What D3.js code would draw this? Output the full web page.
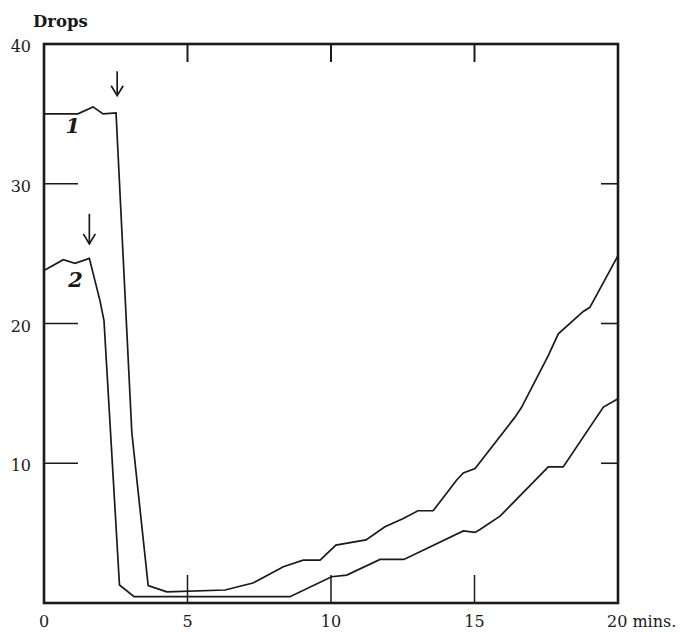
<!DOCTYPE html>
<html>
<head>
<meta charset="utf-8">
<script src="https://cdn.jsdelivr.net/npm/d3@7"></script>
<style>
  body { margin: 0; background: #fff; }
  text { font-family: "DejaVu Serif", "Liberation Serif", serif; fill: #1a1a1a; }
</style>
</head>
<body>
<div id="chart"></div>
<script>
// values: minutes, drops
var mins1  = [0, 1.18, 1.71, 2.06, 2.51, 3.06, 3.63, 4.28, 6.31, 7.28, 8.34, 9.03, 9.62, 10.17, 11.22, 11.88, 12.52, 13.03, 13.56, 14.38, 14.61, 15.02, 16.41, 16.64, 17.57, 17.92, 18.79, 19.02, 20];
var drops1 = [35.0, 35.0, 35.5, 35.0, 35.07, 12.2, 1.25, 0.8, 0.93, 1.43, 2.6, 3.07, 3.07, 4.14, 4.52, 5.45, 6.05, 6.6, 6.6, 8.8, 9.3, 9.62, 13.3, 14.0, 17.7, 19.26, 20.86, 21.16, 24.86];

var mins2  = [0, 0.67, 1.08, 1.58, 1.95, 2.09, 2.63, 3.14, 8.57, 10.02, 10.55, 11.71, 12.54, 14.61, 15.02, 15.19, 15.89, 17.17, 17.57, 18.09, 19.49, 20];
var drops2 = [23.8, 24.57, 24.31, 24.66, 21.64, 20.21, 1.29, 0.45, 0.45, 1.88, 2.0, 3.12, 3.12, 5.16, 5.05, 5.26, 6.21, 8.9, 9.74, 9.74, 14.02, 14.62];

var xTicks = [0, 5, 10, 15, 20];
var yTicks = [10, 20, 30, 40];
var curveNames = ["1", "2"];
// arrows (time of addition): minute, drops at tail, drops at head
var arrowMin = [2.55, 1.58];
var arrowTop = [38.05, 27.85];
var arrowTip = [36.3, 25.7];

var W = 688, H = 632;
var mLeft = 44, mRight = 618, mTop = 44, mBottom = 603;

var x = d3.scaleLinear().domain([0, 20]).range([mLeft, mRight]);
var y = d3.scaleLinear().domain([0, 40]).range([mBottom, mTop]);

var svg = d3.select("#chart").append("svg")
    .attr("width", W).attr("height", H);

var ink = "#1a1a1a";

// frame
svg.append("rect")
    .attr("x", x(0)).attr("y", y(40))
    .attr("width", x(20) - x(0)).attr("height", y(0) - y(40))
    .attr("fill", "none").attr("stroke", ink).attr("stroke-width", 2.6);

// inner ticks, pointing inward from every side
var inner = xTicks.filter(function(d){ return d > 0 && d < 20; });
var innerY = yTicks.filter(function(d){ return d < 40; });

svg.append("g").selectAll("line").data(inner).enter().append("line")
    .attr("x1", function(d){ return x(d); }).attr("x2", function(d){ return x(d); })
    .attr("y1", y(0)).attr("y2", y(0) - 28)
    .attr("stroke", ink).attr("stroke-width", 1.5);

svg.append("g").selectAll("line").data(inner).enter().append("line")
    .attr("x1", function(d){ return x(d); }).attr("x2", function(d){ return x(d); })
    .attr("y1", y(40)).attr("y2", y(40) + 18)
    .attr("stroke", ink).attr("stroke-width", 2);

svg.append("g").selectAll("line").data(innerY).enter().append("line")
    .attr("x1", x(0)).attr("x2", x(0) + 34)
    .attr("y1", function(d){ return y(d); }).attr("y2", function(d){ return y(d); })
    .attr("stroke", ink).attr("stroke-width", 1.6);

svg.append("g").selectAll("line").data(innerY).enter().append("line")
    .attr("x1", x(20)).attr("x2", x(20) - 17)
    .attr("y1", function(d){ return y(d); }).attr("y2", function(d){ return y(d); })
    .attr("stroke", ink).attr("stroke-width", 1.6);

// tick labels
svg.append("g").selectAll("text").data(yTicks).enter().append("text")
    .attr("x", x(0) - 13).attr("y", function(d){ return y(d) + 8; })
    .attr("text-anchor", "end").attr("font-size", 16)
    .text(function(d){ return d; });

svg.append("g").selectAll("text").data(xTicks).enter().append("text")
    .attr("x", function(d){ return x(d); }).attr("y", 627)
    .attr("text-anchor", function(d){ return d == 20 ? "start" : "middle"; })
    .attr("dx", function(d){ return d == 20 ? -11 : 0; })
    .attr("font-size", 16)
    .text(function(d){ return d == 20 ? d + " mins." : d; });

svg.append("text")
    .attr("x", 33).attr("y", 27)
    .attr("font-size", 16.5).attr("font-weight", "bold")
    .text("Drops");

// curves
var line = d3.line()
    .x(function(d){ return x(d[0]); })
    .y(function(d){ return y(d[1]); });

var series = [d3.zip(mins1, drops1), d3.zip(mins2, drops2)];

svg.append("g").selectAll("path").data(series).enter().append("path")
    .attr("d", line)
    .attr("fill", "none").attr("stroke", ink)
    .attr("stroke-width", 1.7).attr("stroke-linejoin", "miter");

// curve numbers
var namePos = [[1.0, 33.6], [1.1, 22.6]];
svg.append("g").selectAll("text").data(curveNames).enter().append("text")
    .attr("x", function(d, i){ return x(namePos[i][0]); })
    .attr("y", function(d, i){ return y(namePos[i][1]); })
    .attr("text-anchor", "middle")
    .attr("font-size", 21).attr("font-style", "italic").attr("font-weight", "bold")
    .text(function(d){ return d; });

// arrows
var ag = svg.append("g").attr("stroke", ink).attr("fill", "none").attr("stroke-width", 1.7);
arrowMin.forEach(function(m, i){
  var ax = x(m), y0 = y(arrowTop[i]), y1 = y(arrowTip[i]);
  ag.append("line").attr("x1", ax).attr("x2", ax).attr("y1", y0).attr("y2", y1);
  ag.append("path").attr("d", "M" + (ax - 6) + "," + (y1 - 10) + "L" + ax + "," + y1 + "L" + (ax + 6) + "," + (y1 - 10));
});
</script>
</body>
</html>
